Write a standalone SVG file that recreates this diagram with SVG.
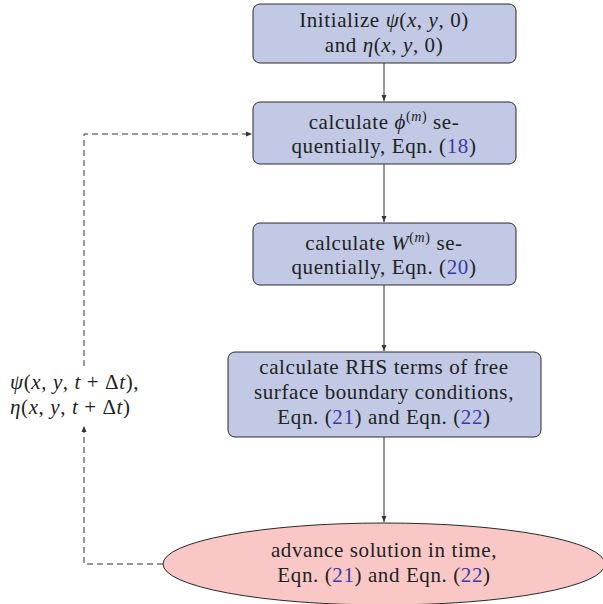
<svg xmlns="http://www.w3.org/2000/svg" width="603" height="604" viewBox="0 0 603 604">
<style>
.box{fill:#c1c9e5;stroke:#2a2a2a;stroke-width:1}
.ell{fill:#f9c8c6;stroke:#2a2a2a;stroke-width:1}
text{font-family:"Liberation Serif","DejaVu Serif",serif;font-size:21px;letter-spacing:0.6px;fill:#222}
.c{text-anchor:middle}
.i{font-style:italic}
.r{fill:#3a3aa8}
.sup{font-size:14px}
.ln{stroke:#333;stroke-width:1;fill:none}
.d{stroke:#333;stroke-width:1;fill:none;stroke-dasharray:6 4}
</style>
<defs>
<marker id="ah" viewBox="0 0 6 6" refX="6" refY="3" markerWidth="6" markerHeight="6" orient="auto" markerUnits="userSpaceOnUse">
<path d="M0,0.5 L6,3 L0,5.5 z" fill="#333"/>
</marker>
</defs>
<g id="connectors">
<line class="ln" x1="384" y1="63" x2="384" y2="101" marker-end="url(#ah)"/>
<line class="ln" x1="384" y1="164" x2="384" y2="222" marker-end="url(#ah)"/>
<line class="ln" x1="384" y1="285" x2="384" y2="351" marker-end="url(#ah)"/>
<line class="ln" x1="384" y1="437" x2="384" y2="522" marker-end="url(#ah)"/>
<polyline class="d" points="163,564 84,564 84,426" marker-end="url(#ah)"/>
<polyline class="d" points="84,366 84,134 252,134" marker-end="url(#ah)"/>
</g>
<g id="n1">
<rect class="box" x="253" y="4" width="263" height="59" rx="7"/>
<text class="c" x="384" y="27">Initialize <tspan class="i">ψ</tspan>(<tspan class="i">x</tspan>, <tspan class="i">y</tspan>, 0)</text>
<text class="c" x="384" y="52">and <tspan class="i">η</tspan>(<tspan class="i">x</tspan>, <tspan class="i">y</tspan>, 0)</text>
</g>
<g id="n2">
<rect class="box" x="253" y="102" width="263" height="62" rx="7"/>
<text class="c" x="384" y="129">calculate <tspan class="i">ϕ</tspan><tspan class="sup" dy="-8">(<tspan class="i">m</tspan>)</tspan><tspan dy="8"> se-</tspan></text>
<text class="c" x="384" y="153">quentially, Eqn. (<tspan class="r">18</tspan>)</text>
</g>
<g id="n3">
<rect class="box" x="253" y="223" width="263" height="62" rx="7"/>
<text class="c" x="384" y="250">calculate <tspan class="i">W</tspan><tspan class="sup" dy="-8">(<tspan class="i">m</tspan>)</tspan><tspan dy="8"> se-</tspan></text>
<text class="c" x="384" y="274">quentially, Eqn. (<tspan class="r">20</tspan>)</text>
</g>
<g id="n4">
<rect class="box" x="228" y="352" width="313" height="85" rx="7"/>
<text class="c" x="384" y="374">calculate RHS terms of free</text>
<text class="c" x="384" y="399">surface boundary conditions,</text>
<text class="c" x="384" y="424">Eqn. (<tspan class="r">21</tspan>) and Eqn. (<tspan class="r">22</tspan>)</text>
</g>
<g id="n5">
<ellipse class="ell" cx="384" cy="564" rx="221" ry="41"/>
<text class="c" x="384" y="557">advance solution in time,</text>
<text class="c" x="384" y="582">Eqn. (<tspan class="r">21</tspan>) and Eqn. (<tspan class="r">22</tspan>)</text>
</g>
<g id="label">
<text x="10" y="389"><tspan class="i">ψ</tspan>(<tspan class="i">x</tspan>, <tspan class="i">y</tspan>, <tspan class="i">t</tspan> + Δ<tspan class="i">t</tspan>),</text>
<text x="10" y="414"><tspan class="i">η</tspan>(<tspan class="i">x</tspan>, <tspan class="i">y</tspan>, <tspan class="i">t</tspan> + Δ<tspan class="i">t</tspan>)</text>
</g>
</svg>
